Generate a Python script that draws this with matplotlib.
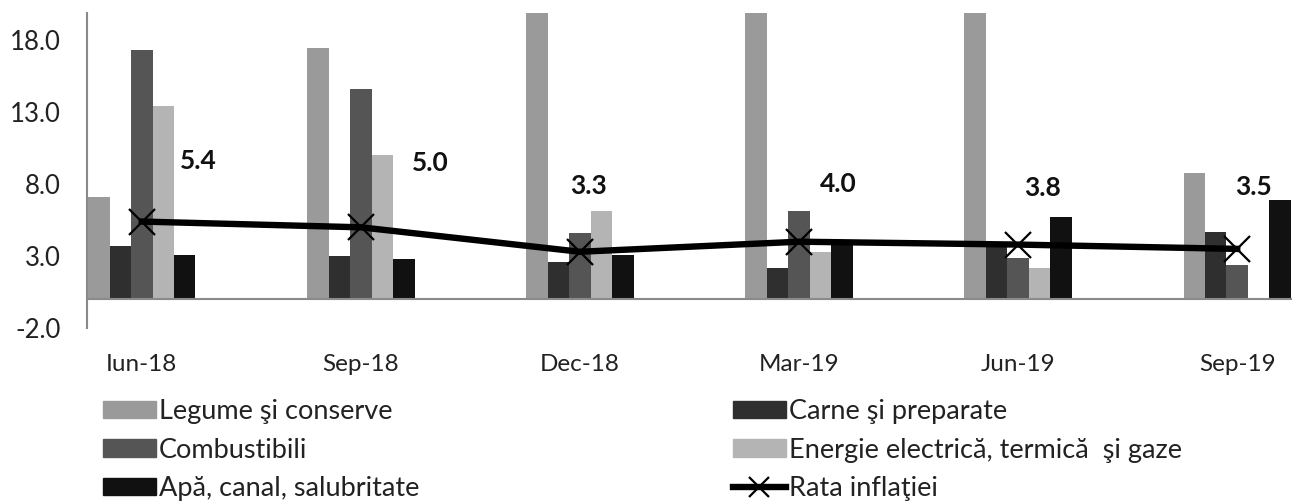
import numpy as np
import matplotlib
matplotlib.use("Agg")
import matplotlib.pyplot as plt
from matplotlib.patches import Patch
from matplotlib.lines import Line2D

plt.rcParams['font.family'] = ['Lato', 'DejaVu Sans']

# Datele graficului
perioade = ["Iun-18", "Sep-18", "Dec-18", "Mar-19", "Jun-19", "Sep-19"]
legume = [7.1, 17.5, 24.0, 24.0, 24.0, 8.8]
carne = [3.7, 3.0, 2.6, 2.2, 3.7, 4.7]
combustibili = [17.3, 14.6, 4.6, 6.1, 2.9, 2.4]
energie = [13.4, 10.0, 6.1, 3.3, 2.2, 0.0]
apa = [3.1, 2.8, 3.1, 4.1, 5.7, 6.9]
inflatie = [5.4, 5.0, 3.3, 4.0, 3.8, 3.5]

serii = [legume, carne, combustibili, energie, apa]
nume = ["Legume şi conserve", "Carne şi preparate", "Combustibili",
        "Energie electrică, termică  şi gaze", "Apă, canal, salubritate"]
culori = ["#9a9a9a", "#2f2f2f", "#555555", "#b4b4b4", "#111111"]

fig = plt.figure(figsize=(12.92, 5.04), dpi=100)
ax = fig.add_axes([87 / 1292, 1 - 328 / 504, 1 - 87 / 1292, 315 / 504])

x = np.arange(len(perioade))
w = 0.098
for k, (val, c) in enumerate(zip(serii, culori)):
    ax.bar(x + (k - 2) * w, val, width=w, color=c, linewidth=0, zorder=2)

ax.plot(x, inflatie, color="black", lw=4.6, marker="x", markersize=19,
        markeredgewidth=1.6, zorder=4)

# etichete valori (pozitionate manual ca in original)
offs = [(57, 61), (69, 64), (9, 66), (39, 58), (24, 57), (16, 62)]
for i, v in enumerate(inflatie):
    ax.annotate(f"{v:.1f}", (x[i], v), xytext=offs[i], textcoords="offset pixels",
                ha="center", va="center", fontsize=19, fontweight="bold", color="#111111")

ax.set_xlim(-0.25, 5.25)
ax.set_ylim(-2, 19.9)
ax.set_yticks([-2, 3, 8, 13, 18])
ax.set_yticklabels([f"{t:.1f}" for t in [-2, 3, 8, 13, 18]])
ax.set_xticks(x)
ax.set_xticklabels(perioade)
ax.tick_params(axis="y", length=0, pad=19, labelsize=18.5, labelcolor="#222222")
ax.tick_params(axis="x", length=0, pad=19, labelsize=17.5, labelcolor="#222222")

for s in ["top", "right", "bottom"]:
    ax.spines[s].set_visible(False)
ax.spines["left"].set_color("#8a8a8a")
ax.spines["left"].set_linewidth(1.5)
ax.axhline(0, color="#8a8a8a", lw=1.5, zorder=3)

# legenda in doua coloane
h1 = [Patch(color=culori[0]), Patch(color=culori[2]), Patch(color=culori[4])]
l1 = [nume[0], nume[2], nume[4]]
h2 = [Patch(color=culori[1]), Patch(color=culori[3]),
      Line2D([], [], color="black", lw=4.6, marker="x", markersize=14, markeredgewidth=1.6)]
l2 = [nume[1], nume[3], "Rata inflaţiei"]

opt = dict(loc="upper left", frameon=False, fontsize=19.5, borderpad=0, borderaxespad=0,
           handlelength=1.95, handleheight=0.6, handletextpad=0.12, labelspacing=0.5,
           labelcolor="#222222")
fig.legend(h1, l1, bbox_to_anchor=(103 / 1292, 1 - 399 / 504), **opt)
fig.legend(h2, l2, bbox_to_anchor=(733 / 1292, 1 - 399 / 504), **opt)

fig.savefig("out.png", dpi=100)
